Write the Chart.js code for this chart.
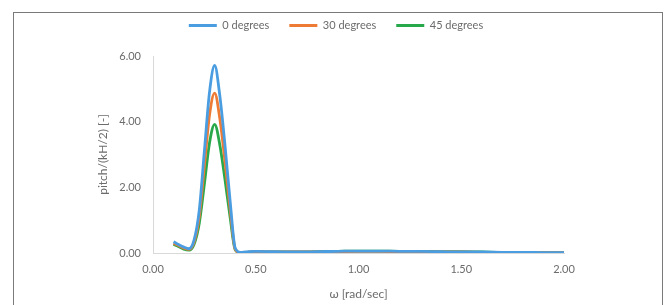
<!DOCTYPE html>
<html lang="en">
<head>
  <meta charset="UTF-8">
  <title>Pitch response</title>
  <script src="https://cdn.jsdelivr.net/npm/chart.js"></script>
  <style>
    body {
      margin: 0;
      padding: 0;
      background: #fff;
      overflow: hidden;
    }

    .wrap {
      position: relative;
      width: 667px;
      height: 305px;
      overflow: hidden;
    }

    .frame {
      position: absolute;
      left: 13px;
      top: 12px;
      width: 648px;
      height: 400px;
      border: 1.5px solid #7a7a7a;
    }

    canvas {
      position: absolute;
      left: 0;
      top: 0;
    }
  </style>
</head>
<body>
<div class="wrap">
  <div class="frame"></div>
  <canvas id="pitchChart" width="667" height="305"></canvas>
</div>

<script>
  // frequency samples (rad/sec)
  var omega = [0.10, 0.15, 0.175, 0.20, 0.225, 0.25, 0.275, 0.30, 0.325, 0.35, 0.375, 0.40, 0.425, 0.45,
    0.50, 0.60, 0.70, 0.80, 0.90, 1.00, 1.10, 1.20, 1.30, 1.40, 1.50, 1.60, 1.70, 1.80, 1.90, 2.00];

  // pitch/(kH/2) per heading
  var deg0 = [0.34, 0.18, 0.13, 0.40, 1.30, 3.10, 4.90, 5.71, 4.80, 3.30, 1.60, 0.15, 0.02, 0.03,
    0.05, 0.04, 0.03, 0.04, 0.05, 0.06, 0.06, 0.05, 0.05, 0.04, 0.03, 0.03, 0.02, 0.02, 0.01, 0.01];
  var deg30 = [0.30, 0.15, 0.11, 0.33, 1.10, 2.65, 4.20, 4.87, 4.10, 2.80, 1.35, 0.12, 0.01, 0.02,
    0.04, 0.03, 0.03, 0.03, 0.04, 0.05, 0.05, 0.04, 0.04, 0.03, 0.03, 0.02, 0.02, 0.01, 0.01, 0.01];
  var deg45 = [0.27, 0.12, 0.09, 0.27, 0.90, 2.10, 3.35, 3.92, 3.30, 2.25, 1.10, 0.10, 0.01, 0.02,
    0.04, 0.03, 0.03, 0.04, 0.05, 0.06, 0.06, 0.05, 0.05, 0.04, 0.04, 0.03, 0.02, 0.02, 0.01, 0.01];

  var seriesNames = ['0 degrees', '30 degrees', '45 degrees'];
  var seriesColors = ['#4a9de0', '#ee7b35', '#27a84a'];

  function points(ys) {
    return omega.map(function (x, i) { return { x: x, y: ys[i] }; });
  }

  var textColor = '#6b6b6b';
  var fontName = 'Lato, "Open Sans", sans-serif';

  // taller legend band, nudged a bit right like the original
  var legendTweak = {
    id: 'legendTweak',
    beforeInit: function (chart) {
      var fit = chart.legend.fit;
      chart.legend.fit = function () {
        fit.bind(chart.legend)();
        this.height = 56;
      };
    },
    afterLayout: function (chart) {
      chart.legend.left += 8;
      chart.legend.right += 8;
    }
  };

  var ctx = document.getElementById('pitchChart').getContext('2d');
  var pitchChart = new Chart(ctx, {
    type: 'line',
    data: {
      datasets: [deg0, deg30, deg45].map(function (ys, i) {
        return {
          label: seriesNames[i],
          data: points(ys),
          borderColor: seriesColors[i],
          backgroundColor: seriesColors[i],
          borderWidth: 2.8,
          pointRadius: 0,
          cubicInterpolationMode: 'monotone',
          fill: false
        };
      })
    },
    options: {
      responsive: false,
      animation: false,
      layout: {
        padding: { left: 92, right: 103, top: 0, bottom: 0 }
      },
      plugins: {
        legend: {
          position: 'top',
          labels: {
            boxWidth: 28,
            boxHeight: 0,
            padding: 20,
            color: textColor,
            font: { family: fontName, size: 11 }
          }
        },
        tooltip: { enabled: false }
      },
      scales: {
        x: {
          type: 'linear',
          min: 0,
          max: 2,
          afterFit: function (scale) { scale.height = 52; },
          ticks: {
            stepSize: 0.5,
            padding: 10,
            color: textColor,
            font: { family: fontName, size: 11 },
            callback: function (v) { return v.toFixed(2); }
          },
          grid: { display: false, drawTicks: false },
          border: { color: '#d9d9d9', width: 1 },
          title: {
            display: true,
            text: 'ω [rad/sec]',
            color: textColor,
            font: { family: fontName, size: 12 },
            padding: { top: 4, bottom: 4 }
          }
        },
        y: {
          min: 0,
          max: 6,
          afterFit: function (scale) { scale.width = 61; },
          ticks: {
            stepSize: 2,
            padding: 12,
            color: textColor,
            font: { family: fontName, size: 11 },
            callback: function (v) { return v.toFixed(2); }
          },
          grid: { display: false, drawTicks: false },
          border: { color: '#d9d9d9', width: 1 },
          title: {
            display: true,
            text: 'pitch/(kH/2) [-]',
            color: textColor,
            font: { family: fontName, size: 12 },
            padding: { top: 4, bottom: 4 }
          }
        }
      }
    },
    plugins: [legendTweak]
  });
</script>
</body>
</html>
